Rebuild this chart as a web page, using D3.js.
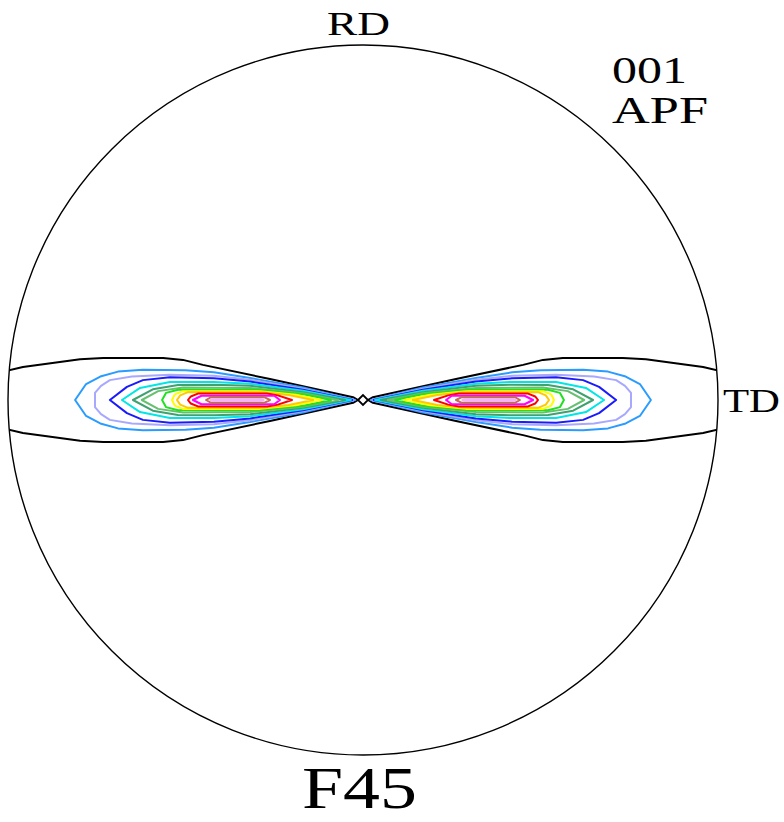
<!DOCTYPE html>
<html>
<head>
<meta charset="utf-8">
<script src="https://cdn.jsdelivr.net/npm/d3@7"></script>
<style>
  html, body { margin: 0; padding: 0; background: #fff; }
  svg { display: block; }
</style>
</head>
<body>
<svg id="chart" width="784" height="822"></svg>
<script>
// 001 pole figure, stereographic projection on the unit disc.
// Each contour level is given as a half-profile [u, h]: u = distance from the
// centre along TD (0..1), h = half-width along RD. Lobes are mirrored to both
// sides of the centre and about the TD axis.
const levelNames = ["1", "1.4", "2", "2.8", "4", "5.6", "8", "11", "16", "22", "32", "45", "64", "90"];
const levelColors = ["#000000", "#2a9cff", "#a8a8ff", "#1a1aff", "#00e6e6", "#3fa070", "#66c070",
                     "#20e020", "#ffff00", "#ffc800", "#ff0000", "#ff00ff", "#c07050", "#f4b4f4"];

const profile1  = [[0.014, 0], [0.028, 0.008], [0.262, 0.059], [0.451, 0.099], [0.507, 0.113], [0.563, 0.118], [0.732, 0.118], [0.797, 0.115], [0.854, 0.107], [0.958, 0.093], [1.02, 0.078], [1.08, 0.07], [1.08, 0]];
const profile2  = [[0.022, 0], [0.169, 0.035], [0.318, 0.062], [0.42, 0.078], [0.50, 0.084], [0.62, 0.085], [0.69, 0.080], [0.74, 0.066], [0.78, 0.045], [0.811, 0]];
const profile3  = [[0.026, 0], [0.169, 0.032], [0.318, 0.057], [0.42, 0.068], [0.544, 0.071], [0.651, 0.066], [0.713, 0.056], [0.738, 0.040], [0.755, 0.020], [0.755, 0]];
const profile4  = [[0.030, 0], [0.169, 0.029], [0.318, 0.052], [0.42, 0.061], [0.544, 0.064], [0.620, 0.056], [0.665, 0.037], [0.713, 0]];
const profile5  = [[0.034, 0], [0.169, 0.026], [0.318, 0.046], [0.42, 0.051], [0.544, 0.051], [0.628, 0.034], [0.679, 0]];
const profile6  = [[0.050, 0], [0.169, 0.022], [0.318, 0.040], [0.42, 0.043], [0.521, 0.042], [0.592, 0.030], [0.648, 0]];
const profile7  = [[0.070, 0], [0.169, 0.019], [0.318, 0.034], [0.507, 0.035], [0.577, 0.025], [0.623, 0]];
const profile8  = [[0.090, 0], [0.169, 0.016], [0.30, 0.029], [0.521, 0.029], [0.555, 0.020], [0.566, 0]];
const profile9  = [[0.115, 0], [0.190, 0.015], [0.29, 0.025], [0.507, 0.025], [0.530, 0.016], [0.538, 0]];
const profile10 = [[0.140, 0], [0.210, 0.014], [0.28, 0.022], [0.493, 0.022], [0.515, 0.013], [0.524, 0]];
const profile11 = [[0.200, 0], [0.240, 0.013], [0.270, 0.018], [0.465, 0.018], [0.485, 0.010], [0.493, 0]];
const profile12 = [[0.234, 0], [0.250, 0.012], [0.455, 0.012], [0.479, 0]];
const profile13 = [[0.262, 0], [0.278, 0.008], [0.428, 0.008], [0.442, 0]];
const profile14 = [[0.280, 0], [0.288, 0.003], [0.423, 0.003], [0.430, 0]];
const profiles = [profile1, profile2, profile3, profile4, profile5, profile6, profile7,
                  profile8, profile9, profile10, profile11, profile12, profile13, profile14];

// Small closed level-1 loop around the centre point.
const centreLoop = [[-0.014, 0], [0, 0.014], [0.014, 0], [0, -0.014]];

const axisLabels = ["RD", "TD"];
const figureTitle = "F45";
const poleLabel = ["001", "APF"];

const cx = 363, cy = 400, R = 355;
const x = d3.scaleLinear().domain([-1, 1]).range([cx - R, cx + R]);
const y = d3.scaleLinear().domain([-1, 1]).range([cy + R, cy - R]);

const svg = d3.select("#chart");
const serif = "'Liberation Serif', Tinos, 'Times New Roman', Times, serif";

svg.append("clipPath").attr("id", "disc")
  .append("circle").attr("cx", x(0)).attr("cy", y(0)).attr("r", x(1) - x(0));

const g = svg.append("g").attr("clip-path", "url(#disc)");
const line = d3.line().x(d => x(d[0])).y(d => y(d[1])).curve(d3.curveLinearClosed);

// Build one closed lobe outline (side = -1 left, +1 right).
function lobe(prof, side) {
  const upper = prof.map(([u, h]) => [side * u, h]);
  const lower = prof.slice().reverse().map(([u, h]) => [side * u, -h]);
  return upper.concat(lower);
}

profiles.forEach((prof, i) => {
  [-1, 1].forEach(side => {
    g.append("path")
      .attr("d", line(lobe(prof, side)))
      .attr("fill", "none")
      .attr("stroke", levelColors[i])
      .attr("stroke-width", 2)
      .attr("stroke-linejoin", "round");
  });
});

g.append("path")
  .attr("d", line(centreLoop))
  .attr("fill", "#fff")
  .attr("stroke", "#000")
  .attr("stroke-width", 1.8);

// Projection circle
svg.append("circle")
  .attr("cx", x(0)).attr("cy", y(0)).attr("r", x(1) - x(0))
  .attr("fill", "none").attr("stroke", "#000").attr("stroke-width", 1.4);

// Labels
function label(txt, px, py, size, len) {
  svg.append("text").text(txt)
    .attr("x", px).attr("y", py)
    .attr("font-family", serif).attr("font-size", size)
    .attr("textLength", len).attr("lengthAdjust", "spacingAndGlyphs");
}
label(axisLabels[0], 327, 35, 34, 63);
label(axisLabels[1], 723, 412, 34, 57);
label(poleLabel[0], 612, 83, 38, 75);
label(poleLabel[1], 612, 123, 37, 96);
label(figureTitle, 302, 808, 60, 115);
</script>
</body>
</html>
